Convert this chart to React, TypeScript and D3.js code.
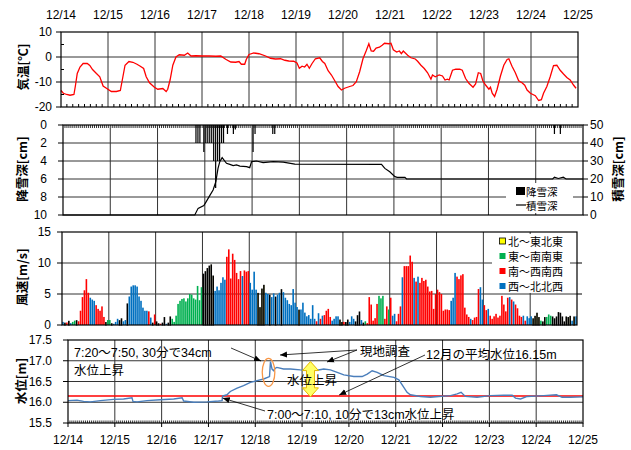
import * as d3 from 'd3'

const days = ['12/14', '12/15', '12/16', '12/17', '12/18', '12/19', '12/20', '12/21', '12/22', '12/23', '12/24', '12/25']

// 気温 [hours since 12/14 0:00, °C]
const tempSeries: [number, number][] = [
  [0, -13.4], [1.2, -14.5], [2.9, -15], [4.6, -15.3], [6.6, -15], [7.3, -11.8], [8.3, -6.6], [9.7, -4],
  [11.3, -2.6], [13.4, -2.6], [14.7, -3.4], [16.1, -5], [18.1, -6.6], [19.8, -7.9], [21.5, -11.6], [23.2, -12.5],
  [25.7, -13.8], [28.3, -13.8], [30.3, -13.4], [31.3, -9.2], [32.7, -3.3], [34.7, -1.8], [36.7, -2.1], [38.8, -2.9],
  [40.5, -3.7], [42.2, -4.6], [43.5, -7.9], [45.2, -10.3], [47.7, -12.1], [49.4, -12.9], [52, -12.6], [53.7, -13.8],
  [54.5, -12.9], [55.7, -9.2], [57.1, -3.3], [58.7, 0], [60.4, 0.9], [63, 0.7], [64.7, 1.6], [66.4, 0.4],
  [68.9, 0.5], [72.3, 0.4], [75.7, 0.4], [79.1, 0.3], [81.6, 0.4], [84.1, -0.9], [86.7, -2], [89.2, -2.1],
  [90.9, -1.8], [92.1, -2.9], [93.8, -2.9], [94.6, -1], [96, 1], [98.5, 1.6], [101.1, 1.3], [104.5, 0.4],
  [107, -0.5], [109.5, -0.8], [112.1, -0.7], [114.3, -1.3], [116.3, -1.6], [118.8, -1.7], [120.5, -2.4], [121.7, -4.5],
  [123.1, -3.7], [124.4, -4], [125.6, -2.9], [126.8, -4.5], [128.2, -2.6], [129.9, -0.7], [132.1, -0.3], [133.5, -1.8],
  [134.7, -2.6], [136.4, -5.5], [138.1, -7.2], [139.8, -9.5], [141.5, -11.8], [143.2, -13.2], [144.8, -12.5], [147.4, -11.8],
  [149.1, -11.4], [150.8, -9.9], [152.5, -5.9], [154.2, -0.7], [155.9, 2.6], [157.2, 5.3], [158.4, 2.4], [159.6, 2.3],
  [160.9, 3.6], [162.6, 3.9], [164, 4.7], [165.2, 5.5], [167.4, 5.3], [168.5, 5.5], [169.7, 2.9], [171.4, 2],
  [172.8, 2.4], [173.8, 1.3], [174.8, 2.4], [177, 0.7], [178.7, -0.3], [180.9, -0.8], [182.1, -1.7], [183.8, -3.3],
  [185.5, -4.6], [187.2, -6.3], [188.9, -8.9], [189.7, -7.2], [191.1, -7.9], [193.1, -7.2], [194.8, -7.6], [196.1, -9.2],
  [197.3, -8.9], [198.2, -9.2], [199.9, -5.3], [201.6, -4.9], [203.6, -4.9], [204.9, -5.3], [206.6, -8.6], [208.3, -10.5],
  [210.4, -12.1], [211.7, -10.8], [213.1, -6.3], [214.3, -6.6], [215.4, -9.5], [216.8, -11.2], [218.5, -12.9], [219.3, -12.1],
  [220.2, -14.5], [221.4, -15.8], [222.7, -12.9], [224.4, -7.6], [226.1, -3.3], [227.8, -1], [228.7, -0.7], [230.3, -3.7],
  [232, -6.3], [233.7, -9.5], [235.4, -10.3], [236.8, -11.3], [238, -13.2], [239.7, -14.5], [242.2, -15.5], [243.9, -17.4],
  [245.3, -17.1], [246.4, -14.5], [248.1, -11.8], [249.8, -7.9], [251.5, -3.4], [253.2, -3.3], [254.9, -5.3], [256.6, -6.8],
  [258.3, -8.2], [260, -9.2], [261.7, -11.2], [263, -12.5],
]

// 降雪深 [hour, cm]
const snowFall: [number, number][] = [
  [67, 2], [68, 2], [69, 2], [71, 3], [72, 2], [73, 2], [74, 2], [75, 2], [76, 4], [77, 7], [78, 4], [79, 4],
  [80, 2], [81, 2], [83, 1], [86, 1], [87, 0.5], [96, 3], [97, 1], [106, 1], [107, 1], [249, 1], [252, 1],
]

// 積雪深 [hour, cm]
const snowDepth: [number, number][] = [
  [0, 0], [66.9, 0], [68.6, 3.7], [71.5, 5.2], [72.5, 7], [74.2, 10.2], [76.2, 13.9], [77.6, 18.5], [78.7, 25.9],
  [79.6, 29.6], [80.8, 31.9], [83, 28.7], [84.7, 28.1], [86.4, 27.4], [88.1, 27.8], [89.8, 27.2], [93.2, 26.9],
  [94.8, 26.3], [95.7, 29.6], [98.2, 30], [101.6, 29.1], [106.7, 29.6], [111.8, 29.4], [117.7, 28.3], [161.7, 28.1],
  [163.4, 25.9], [165.9, 24], [168.5, 21.3], [169.7, 20.9], [173.6, 20.9], [174.4, 20], [248.6, 20], [249.5, 21],
  [251.5, 20.3], [254, 21], [255.4, 20], [264, 20],
]

// 風速 (hourly, one row per day) and 風向 code: k=北～東北東 g=東～南南東 r=南～西南西 b=西～北北西
const windSpeed: number[][] = [
  [0.5, 0.3, 0.4, 0.6, 0.3, 0.5, 0.7, 0.7, 0.6, 2.3, 4.5, 5.6, 7.4, 5.2, 4.4, 4.1, 3.9, 3.2, 2.6, 2.3, 3.0, 1.3, 0.4, 0.8],
  [0.8, 0.2, 0.2, 0.5, 1.0, 0.7, 1.0, 0.6, 0.8, 3.4, 4.6, 6.2, 6.4, 6.4, 6.2, 4.6, 3.9, 2.8, 2.3, 2.3, 2.2, 1.2, 0.3, 1.7],
  [0.5, 0.2, 0.2, 0.3, 1.2, 0.2, 0.3, 1.3, 1.0, 0.5, 1.5, 3.4, 3.9, 4.2, 4.3, 3.8, 4.3, 5.0, 4.9, 4.3, 4.1, 6.3, 4.0, 6.1],
  [8.2, 8.6, 9.1, 9.5, 9.7, 7.9, 5.5, 6.2, 5.6, 6.8, 7.7, 7.3, 11.0, 12.2, 7.5, 11.5, 10.5, 8.4, 7.4, 8.7, 7.9, 8.8, 8.6, 8.7],
  [6.8, 5.7, 8.6, 5.7, 5.1, 2.8, 5.8, 6.4, 5.2, 5.0, 4.8, 4.5, 5.1, 4.5, 4.9, 5.2, 5.7, 5.3, 4.4, 4.0, 3.4, 3.2, 5.8, 3.6],
  [2.9, 2.4, 2.5, 3.6, 2.0, 1.4, 1.6, 1.0, 3.2, 1.0, 0.6, 1.9, 1.0, 1.5, 1.6, 2.3, 2.6, 1.3, 0.7, 1.0, 1.4, 1.4, 0.8, 0.4],
  [0.5, 0.4, 0.8, 0.5, 1.4, 1.0, 0.5, 1.5, 2.1, 0.8, 0.3, 0.6, 0.3, 4.5, 3.3, 0.7, 1.1, 3.4, 4.7, 4.3, 4.7, 1.0, 3.0, 2.5],
  [4.4, 1.5, 1.8, 0.6, 1.8, 3.0, 7.7, 9.5, 9.5, 9.5, 11.2, 10.2, 7.6, 7.0, 7.8, 6.8, 7.6, 7.1, 7.3, 6.2, 5.4, 5.5, 2.6, 5.0],
  [5.7, 5.3, 5.0, 2.3, 2.5, 2.5, 2.4, 3.9, 4.4, 8.4, 7.8, 7.4, 8.0, 8.2, 2.8, 1.7, 1.3, 1.0, 0.8, 1.2, 1.3, 5.8, 6.1, 4.1],
  [3.2, 2.4, 2.6, 1.5, 1.0, 1.4, 1.8, 1.2, 1.5, 4.7, 3.3, 2.2, 4.4, 4.5, 4.1, 3.8, 3.3, 2.7, 1.5, 1.3, 1.5, 0.7, 1.4, 1.1],
  [1.4, 1.0, 1.4, 1.9, 1.2, 0.7, 0.5, 1.2, 1.3, 1.7, 1.5, 1.3, 1.0, 1.3, 2.0, 1.9, 1.3, 0.5, 1.3, 1.2, 1.4, 0.7, 1.3, 1.4],
]
const windDir: string[] = [
  'bkrkbggkrrrrrrbbbrrrrrkg',
  'gkbbbkkbbkbbbbbbbbbbrbkr',
  'kkrkkbkkgggggggggggggggg',
  'kkkkkkbbbbbbrrrrrrrrbrrr',
  'bbbbkkkkbbkbbkbbkbbbbbbb',
  'bkbbbbbbbbrbrbrrrrbbbbkk',
  'rkkbbbkkkbkgrrrrrrgggrrg',
  'rbbrrrbrrrrrbrbrrrrrrrrr',
  'rrrrrrrbbbrrrrrrrbrrrrbb',
  'rrbrrrrrrrrrrbrbrrrrbrbb',
  'bkkkkgkkgggkkkkkkkkkkbkb',
]
const dirLegend: [string, string][] = [['k', '北～東北東'], ['g', '東～南南東'], ['r', '南～西南西'], ['b', '西～北北西']]
const dirColor: Record<string, string> = { k: '#FFFF00', g: '#00B050', r: '#FF0000', b: '#0070C0' }

// 水位 [hour, m]
const levelSeries: [number, number][] = [
  [0, 16.04], [4.6, 16.05], [8, 16.02], [11.4, 16.01], [16.6, 16.04], [23.4, 16.07], [28.5, 16.08], [32.8, 16.11],
  [33.3, 16.02], [35.4, 16.01], [40.5, 16.04], [47.3, 16.06], [54.2, 16.08], [58.5, 16.11], [59.3, 16.03], [64.4, 16.0],
  [71.3, 16.01], [77.2, 16.03], [79, 16.04], [79.2, 16.15], [81.5, 16.18], [83.2, 16.26], [86.7, 16.34], [90, 16.4],
  [93.5, 16.48], [96.9, 16.52], [100.3, 16.56], [103.3, 16.62], [103.8, 16.98], [104.6, 16.8], [105.4, 16.76],
  [106.3, 16.82], [107.1, 16.84], [110.5, 16.8], [114, 16.8], [119.1, 16.78], [127.7, 16.77], [131.1, 16.8],
  [134.5, 16.78], [138, 16.72], [141.4, 16.66], [146.5, 16.62], [150.8, 16.62], [153.4, 16.68], [155.9, 16.76],
  [158.5, 16.72], [161.9, 16.64], [167.1, 16.6], [169.6, 16.54], [171.3, 16.42], [173.8, 16.24], [175.5, 16.18],
  [180.7, 16.14], [185.8, 16.12], [190.1, 16.14], [196.1, 16.16], [199.5, 16.2], [201.5, 16.24], [203.7, 16.14],
  [209.7, 16.12], [216.5, 16.16], [223.4, 16.17], [227.7, 16.17], [229.4, 16.1], [232, 16.08], [235.4, 16.14],
  [243.9, 16.16], [250.4, 16.18], [253.3, 16.12], [257.6, 16.12], [264, 16.13],
]
const monthMean = 16.15

const FONT = "'Liberation Sans', 'Noto Sans CJK JP', sans-serif"
const JP = "'Noto Sans CJK JP', sans-serif"

export default function App() {
  const hours = [0, 264]
  const x1 = d3.scaleLinear().domain(hours).range([61, 578])
  const x2 = d3.scaleLinear().domain(hours).range([63, 583])
  const x3 = d3.scaleLinear().domain(hours).range([62, 577])
  const x4 = d3.scaleLinear().domain(hours).range([68, 583])
  const yTemp = d3.scaleLinear().domain([-20, 10]).range([107, 32])
  const yFall = d3.scaleLinear().domain([0, 10]).range([125, 215])
  const yDepth = d3.scaleLinear().domain([0, 50]).range([215, 125])
  const yWind = d3.scaleLinear().domain([0, 15]).range([325, 232])
  const yLevel = d3.scaleLinear().domain([15.5, 17.5]).range([423, 340])

  const dayH = d3.range(1, 11).map(i => i * 24)

  const frame = (x: d3.ScaleLinear<number, number>, y: d3.ScaleLinear<number, number>, grid: number[]) => {
    const [xa, xb] = x.range()
    const [ya, yb] = y.range()
    const top = Math.min(ya, yb), bot = Math.max(ya, yb)
    return (
      <g stroke="#333" strokeWidth={1} fill="none">
        {dayH.map(h => <line key={'v' + h} x1={x(h)} x2={x(h)} y1={top} y2={bot} />)}
        {grid.map(v => <line key={'h' + v} x1={xa} x2={xb} y1={y(v)} y2={y(v)} />)}
      </g>
    )
  }
  const box = (x: d3.ScaleLinear<number, number>, y: d3.ScaleLinear<number, number>) => {
    const [xa, xb] = x.range()
    const [ya, yb] = y.range()
    return <rect x={xa} y={Math.min(ya, yb)} width={xb - xa} height={Math.abs(yb - ya)} fill="none" stroke="#000" strokeWidth={1.2} />
  }

  const tempLine = d3.line<[number, number]>().x(d => x1(d[0])).y(d => yTemp(d[1]))
  const depthLine = d3.line<[number, number]>().x(d => x2(d[0])).y(d => yDepth(d[1]))
  const levelLine = d3.line<[number, number]>().x(d => x4(d[0])).y(d => yLevel(d[1]))

  const yTitle = (x: number, y: number, t: string) => (
    <text transform={`translate(${x},${y}) rotate(-90)`} textAnchor="middle" dominantBaseline="central"
      fontSize={12.5} fontWeight="bold" fontFamily={JP}>{t}</text>
  )

  // yellow double arrow, anchored on the level scales
  const ax = x4(124.3), aTop = yLevel(16.98), aBot = yLevel(16.13)
  const hw = 8, sw = 4, hl = 9
  const dblArrow = [
    [ax, aTop], [ax + hw, aTop + hl], [ax + sw, aTop + hl], [ax + sw, aBot - hl], [ax + hw, aBot - hl], [ax, aBot],
    [ax - hw, aBot - hl], [ax - sw, aBot - hl], [ax - sw, aTop + hl], [ax - hw, aTop + hl],
  ].map(p => p.join(',')).join(' ')

  return (
    <svg width={631} height={450} style={{ position: 'absolute', left: 0, top: 0, background: '#fff' }} fontFamily={FONT}>
      <defs>
        <marker id="ah" markerWidth={8} markerHeight={8} refX={7} refY={4} orient="auto" markerUnits="userSpaceOnUse">
          <path d="M0,1 L7,4 L0,7 Z" fill="#000" />
        </marker>
      </defs>

      {/* top date labels */}
      {days.map((d, i) => (
        <text key={'t' + d} x={x1(i * 24)} y={15} textAnchor="middle" dominantBaseline="central" fontSize={12}>{d}</text>
      ))}

      {/* ---- panel 1: temperature ---- */}
      {frame(x1, yTemp, [0, -10])}
      <g stroke="#000">
        {d3.range(3, 264, 3).filter(h => h % 24 !== 0).map(h => <line key={'m1' + h} x1={x1(h)} x2={x1(h)} y1={107} y2={104} />)}
        {[10, 0, -10, -20].map(v => <line key={'tk1' + v} x1={56} x2={61} y1={yTemp(v)} y2={yTemp(v)} />)}
        {[5, -5, -15].map(v => <line key={'mk1' + v} x1={61} x2={64} y1={yTemp(v)} y2={yTemp(v)} />)}
      </g>
      <path d={tempLine(tempSeries) ?? ''} fill="none" stroke="#FF0000" strokeWidth={1.3} />
      {box(x1, yTemp)}
      {[10, 0, -10, -20].map(v => (
        <text key={'l1' + v} x={52} y={yTemp(v)} textAnchor="end" dominantBaseline="central" fontSize={12}>{v}</text>
      ))}
      {yTitle(22, 67, '気温[℃]')}

      {/* ---- panel 2: snow ---- */}
      {frame(x2, yFall, [2, 4, 6, 8])}
      <g stroke="#000">
        {d3.range(1, 264).filter(h => h % 24 !== 0).map(h => <line key={'m2' + h} x1={x2(h)} x2={x2(h)} y1={125} y2={128} strokeWidth={0.8} />)}
        {[0, 2, 4, 6, 8, 10].map(v => <line key={'tk2' + v} x1={58} x2={63} y1={yFall(v)} y2={yFall(v)} />)}
        {[0, 10, 20, 30, 40, 50].map(v => <line key={'tr2' + v} x1={583} x2={588} y1={yDepth(v)} y2={yDepth(v)} />)}
      </g>
      {snowFall.map(([h, v]) => (
        <rect key={'sf' + h} x={x2(h + 0.5) - 0.6} y={yFall(0)} width={1.2} height={yFall(v) - yFall(0)} fill="#000" />
      ))}
      <path d={depthLine(snowDepth) ?? ''} fill="none" stroke="#000" strokeWidth={1.2} />
      {box(x2, yFall)}
      {[0, 2, 4, 6, 8, 10].map(v => (
        <text key={'l2' + v} x={47} y={yFall(v)} textAnchor="end" dominantBaseline="central" fontSize={12}>{v}</text>
      ))}
      {[0, 10, 20, 30, 40, 50].map(v => (
        <text key={'r2' + v} x={590} y={yDepth(v)} dominantBaseline="central" fontSize={12}>{v}</text>
      ))}
      {yTitle(21, 169, '降雪深[cm]')}
      {yTitle(617, 169, '積雪深[cm]')}
      <rect x={506} y={183} width={67} height={30} fill="#fff" />
      <rect x={516} y={187} width={9} height={8} fill="#000" />
      <text x={526} y={191} dominantBaseline="central" fontSize={10.5} fontFamily={JP}>降雪深</text>
      <line x1={516} x2={526} y1={205} y2={205} stroke="#000" strokeWidth={1.2} />
      <text x={526} y={205} dominantBaseline="central" fontSize={10.5} fontFamily={JP}>積雪深</text>

      {/* ---- panel 3: wind ---- */}
      {frame(x3, yWind, [5, 10])}
      <g stroke="#000">
        {[0, 5, 10, 15].map(v => <line key={'tk3' + v} x1={57} x2={62} y1={yWind(v)} y2={yWind(v)} />)}
        {[5, 10].map(v => <line key={'tr3' + v} x1={577} x2={582} y1={yWind(v)} y2={yWind(v)} />)}
      </g>
      {windSpeed.map((row, d) => row.map((v, h) => {
        const c = windDir[d][h]
        const cx = x3(d * 24 + h + 0.5)
        const isN = c === 'k'
        const w = isN ? 0.6 : 1.6
        return (
          <rect key={`w${d}-${h}`} x={cx - w / 2} y={yWind(v)} width={w} height={yWind(0) - yWind(v)}
            fill={dirColor[c]} stroke={isN ? '#000' : 'none'} strokeWidth={isN ? 1 : 0} />
        )
      }))}
      {box(x3, yWind)}
      {[0, 5, 10, 15].map(v => (
        <text key={'l3' + v} x={51} y={yWind(v)} textAnchor="end" dominantBaseline="central" fontSize={12}>{v}</text>
      ))}
      {yTitle(21, 277, '風速[m/s]')}
      <rect x={492} y={234} width={78} height={59} fill="#fff" />
      {dirLegend.map(([c, t], i) => (
        <g key={'lg' + c}>
          <rect x={499.5} y={238 + i * 15} width={6} height={6} fill={dirColor[c]} stroke={c === 'k' ? '#000' : 'none'} strokeWidth={0.8} />
          <text x={508} y={241 + i * 15} dominantBaseline="central" fontSize={11} fontFamily={JP}>{t}</text>
        </g>
      ))}

      {/* ---- panel 4: water level ---- */}
      {frame(x4, yLevel, [16, 16.5, 17])}
      <g stroke="#000">
        {d3.range(1, 264).filter(h => h % 24 !== 0).map(h => <line key={'m4' + h} x1={x4(h)} x2={x4(h)} y1={423} y2={420.5} strokeWidth={0.8} />)}
        {d3.range(0, 12).map(i => <line key={'tb4' + i} x1={x4(i * 24)} x2={x4(i * 24)} y1={423} y2={427} />)}
        {[15.5, 16, 16.5, 17, 17.5].map(v => <line key={'tk4' + v} x1={63} x2={68} y1={yLevel(v)} y2={yLevel(v)} />)}
      </g>
      <line x1={x4(0)} x2={x4(264)} y1={yLevel(monthMean)} y2={yLevel(monthMean)} stroke="#FF0000" strokeWidth={1.5} />
      <path d={levelLine(levelSeries) ?? ''} fill="none" stroke="#4A7EBB" strokeWidth={1.4} />
      {box(x4, yLevel)}
      {[15.5, 16, 16.5, 17, 17.5].map(v => (
        <text key={'l4' + v} x={52} y={yLevel(v)} textAnchor="end" dominantBaseline="central" fontSize={12}>{v.toFixed(1)}</text>
      ))}
      {days.map((d, i) => (
        <text key={'b' + d} x={x4(i * 24)} y={440} textAnchor="middle" dominantBaseline="central" fontSize={12}>{d}</text>
      ))}
      {yTitle(20, 381, '水位[m]')}

      {/* annotations */}
      <ellipse cx={x4(102.8)} cy={yLevel(16.72)} rx={6.3} ry={14} fill="none" stroke="#F79646" strokeWidth={1.3} />
      <polygon points={dblArrow} fill="#FFFF66" stroke="#E6B800" strokeWidth={1} />
      <g stroke="#000" strokeWidth={0.8} markerEnd="url(#ah)">
        <line x1={231} y1={348} x2={261} y2={361} />
        <line x1={357} y1={350} x2={280} y2={355} />
        <line x1={357} y1={350} x2={327} y2={362} />
        <line x1={425} y1={355} x2={x4(139)} y2={yLevel(monthMean) - 1} />
        <line x1={265} y1={411} x2={x4(79.3)} y2={yLevel(16.1)} />
      </g>
      <g fontFamily={FONT} fontSize={12.5}>
        <text x={74} y={353} dominantBaseline="central">7:20～7:50, 30分で34cm</text>
        <text x={74} y={371} dominantBaseline="central">水位上昇</text>
        <text x={360} y={352} dominantBaseline="central">現地調査</text>
        <text x={287} y={381} dominantBaseline="central">水位上昇</text>
        <text x={426} y={355} dominantBaseline="central">12月の平均水位16.15m</text>
        <text x={267} y={415} dominantBaseline="central">7:00～7:10, 10分で13cm水位上昇</text>
      </g>
    </svg>
  )
}
